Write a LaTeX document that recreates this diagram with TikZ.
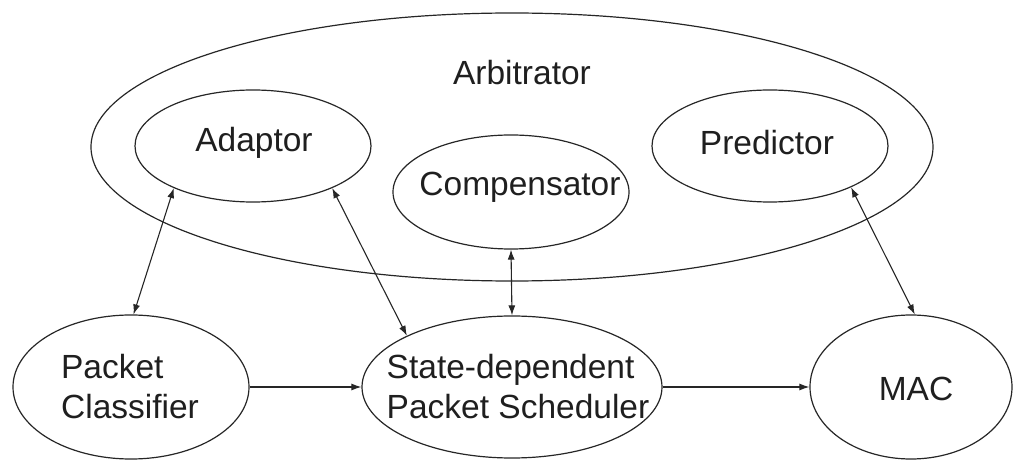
\documentclass[tikz,border=0pt]{standalone}
\usepackage{fontspec}
\setmainfont{Liberation Sans}
\usetikzlibrary{shapes.geometric,arrows.meta}
\begin{document}
\begin{tikzpicture}[x=1pt,y=-1pt,
  every node/.style={font=\fontsize{33.5}{40}\selectfont, text=black!88},
  oval/.style={ellipse, draw=black!85, line width=1.2pt, inner sep=0pt},
  lbl/.style={inner sep=0pt},
  conn/.style={line width=1.1pt, draw=black!85, >={Latex[length=10pt,width=7pt]}}]
\useasboundingbox (0,0) rectangle (1013,462);
% outer ellipse
\node[oval, minimum width=842pt, minimum height=268pt] (arb) at (512,147) {};
\node[lbl] (arbt) at (522,73) {Arbitrator};
% inner ellipses
\node[oval, minimum width=236pt, minimum height=112pt] (ada) at (253,146) {};
\node[lbl] at (254,143) {Adaptor};
\node[oval, minimum width=236pt, minimum height=112pt] (pre) at (770,146) {};
\node[lbl] at (767,143) {Predictor};
\node[oval, minimum width=236pt, minimum height=114pt] (com) at (511,192) {};
\node[lbl] at (520,187) {Compensator};
% bottom row
\node[oval, minimum width=236pt, minimum height=144pt] (cls) at (131,387) {};
\node[lbl, align=left] at (130,387) {Packet\\Classifier};
\node[oval, minimum width=300pt, minimum height=142pt] (sch) at (512,387) {};
\node[lbl, align=left] at (518,387) {State-dependent\\Packet Scheduler};
\node[oval, minimum width=202pt, minimum height=144pt] (mac) at (911,387) {};
\node[lbl] at (916,389) {MAC};
% connectors
\draw[conn, <->] (ada.208) -- (cls.88.5);
\draw[conn, <->] (ada.332.6) -- (sch.154.9);
\draw[conn, <->] (com.270) -- (sch.90);
\draw[conn, <->] (pre.333.4) -- (mac.87);
\draw[conn, ->] (cls.east) -- (sch.west);
\draw[conn, ->] (sch.east) -- (mac.west);
\end{tikzpicture}
\end{document}
